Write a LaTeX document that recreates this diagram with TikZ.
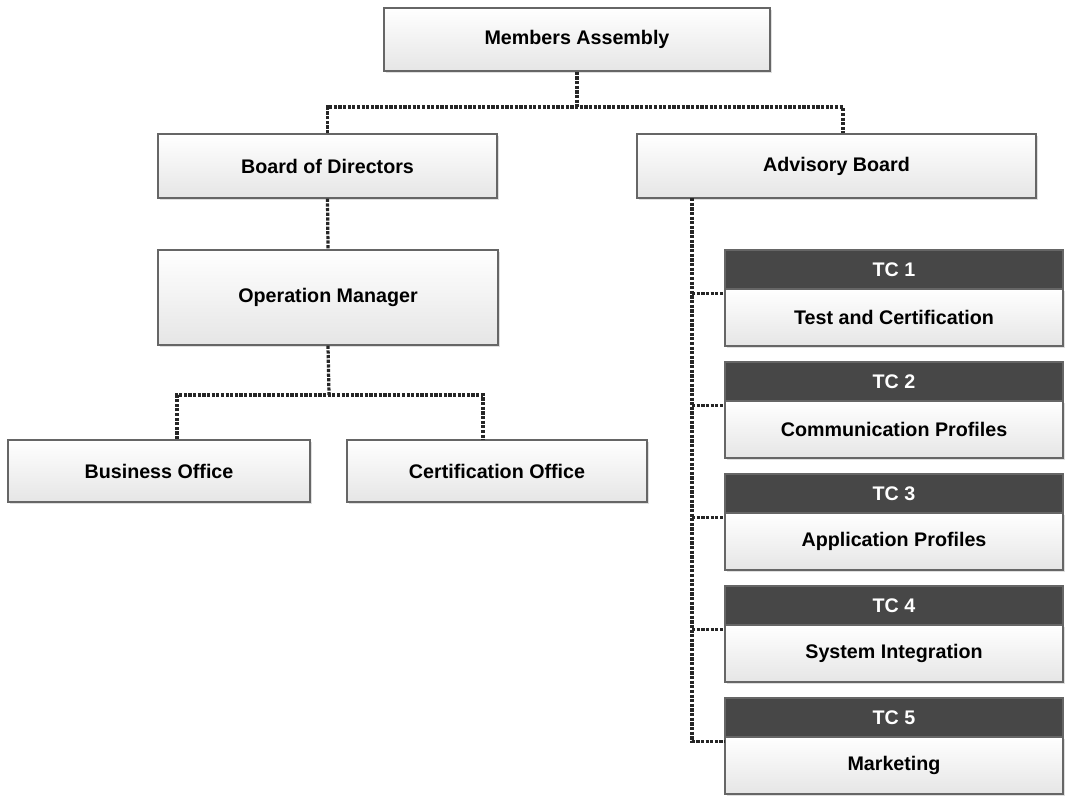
\documentclass[tikz,border=0pt]{standalone}
\usepackage{fontspec}
\setmainfont{Liberation Sans}
\usepackage{tikz}
\usetikzlibrary{shadows}
\tikzset{
  orgbox/.style={rectangle,draw=black!60,line width=1pt,top color=white,bottom color=black!10,
    drop shadow={opacity=0.25,shadow xshift=0.05cm,shadow yshift=-0.05cm},
    inner sep=0pt,font=\bfseries\fontsize{14}{16}\selectfont},
  tchead/.style={rectangle,draw=black!60,line width=1pt,fill=black!72,text=white,
    minimum width=8.45cm,minimum height=0.975cm,inner sep=0pt,
    font=\bfseries\fontsize{14}{16}\selectfont},
  tcbody/.style={orgbox,minimum width=8.45cm,minimum height=1.425cm},
  link/.style={line width=2.3pt,black!85,dash pattern=on 2.3pt off 1pt}
}

\begin{document}
\begin{tikzpicture}[x=0.025cm,y=-0.025cm]

\useasboundingbox (0,0) rectangle (1071,798);

% Top of the organisation
\node[orgbox,minimum width=9.65cm,minimum height=1.575cm] (MA) at (577,39.5) {Members Assembly};
\node[orgbox,minimum width=8.475cm,minimum height=1.6cm] (BD) at (327.5,166) {Board of Directors};
\node[orgbox,minimum width=9.975cm,minimum height=1.6cm] (AB) at (836.5,166) {Advisory Board};

% Operations branch
\node[orgbox,minimum width=8.5cm,minimum height=2.375cm] (OM) at (328,297.5) {Operation Manager};
\node[orgbox,minimum width=7.55cm,minimum height=1.55cm] (BO) at (159,471) {Business Office};
\node[orgbox,minimum width=7.5cm,minimum height=1.55cm] (CO) at (497,471) {Certification Office};

% Technical committees
\foreach \i/\y/\name in {
1/250/Test and Certification,
2/362/Communication Profiles,
3/474/Application Profiles,
4/586/System Integration,
5/698/Marketing}
{
  \node[tcbody] (TCb\i) at (894,\y+67.5) {\name};
  \node[tchead] (TCh\i) at (894,\y+19.5) {TC \i};
}

% Junctions
\coordinate (jtop) at (577,107);
\coordinate (jmid) at (329,395);
\coordinate (rail) at (692,198);

% Members Assembly to boards
\draw[link] (MA.south) -- (jtop);
\draw[link] (BD.north) |- (jtop) -| ([xshift=0.16cm]AB.north);

% Board to offices
\draw[link] (BD.south) -- (OM.north);
\draw[link] (OM.south) -- (jmid);
\draw[link] ([xshift=0.45cm]BO.north) |- (jmid) -| ([xshift=-0.35cm]CO.north);

% Advisory Board to committees
\foreach \i in {1,...,5}
{
  \coordinate (t\i) at ([yshift=-0.125cm]TCb\i.north west);
}
\draw[link] (rail) |- (t5);
\foreach \i in {1,...,4}
{
  \draw[link] (rail |- t\i) -- (t\i);
}

\end{tikzpicture}
\end{document}
